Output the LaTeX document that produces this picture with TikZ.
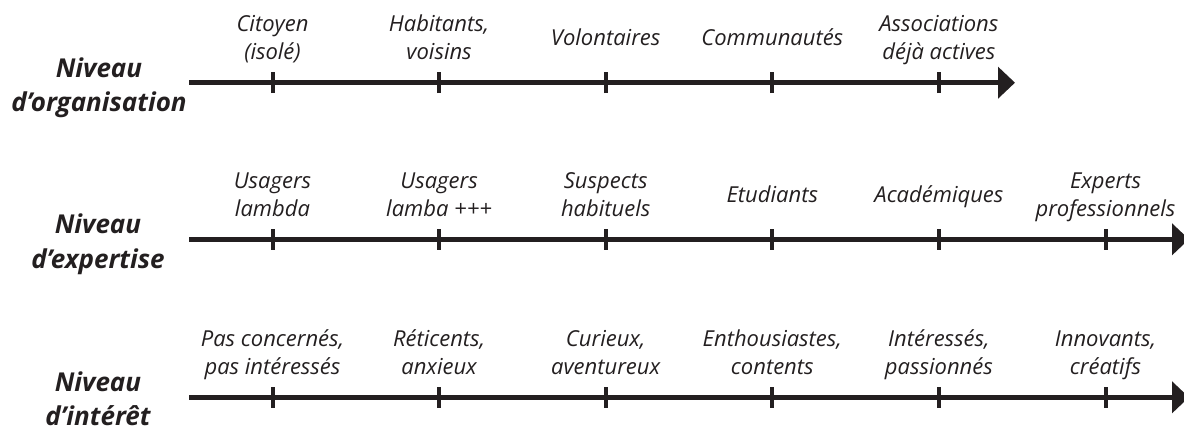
\documentclass[tikz,border=0pt]{standalone}
\usepackage{fontspec}
\setmainfont{Open Sans}
\usetikzlibrary{arrows.meta}
\definecolor{ink}{HTML}{231F20}
\newcommand{\stk}[1]{\begin{tabular}{@{}c@{}}#1\end{tabular}}
\begin{document}
\begin{tikzpicture}[x=1pt,y=-1pt,
  axisline/.style={line width=5pt, draw=ink, -{Triangle[length=17pt,width=31pt]}},
  tickmark/.style={line width=4pt, draw=ink},
  itemlbl/.style={inner sep=0pt, text=ink, font=\fontsize{22}{27.5}\selectfont\itshape},
  rowlbl/.style={inner sep=0pt, text=ink, font=\fontsize{26}{34.5}\selectfont\bfseries\itshape}]
\useasboundingbox (0,0) rectangle (1184,428);
% ---- row 1
\coordinate (s1) at (189,82.7);
\coordinate (e1) at (1015,82.7);
\draw[axisline] (s1) -- (e1);
\node[rowlbl] (r1) at (99,87.5) {\stk{Niveau\\d’organisation}};
\foreach \x/\n in {272.5/1,439.1/2,605.7/3,772.3/4,938.9/5}{
  \coordinate (a\n) at (\x,82.7);
  \draw[tickmark] ([yshift=-10.5pt]a\n) -- ([yshift=10.5pt]a\n);
}
\node[itemlbl] (i11) at (272.5,40.2) {\stk{Citoyen\\(isolé)}};
\node[itemlbl] (i12) at (439.1,40.2) {\stk{Habitants,\\voisins}};
\node[itemlbl] (i13) at (605.7,40.2) {\stk{Volontaires}};
\node[itemlbl] (i14) at (772.3,40.2) {\stk{Communautés}};
\node[itemlbl] (i15) at (938.9,40.2) {\stk{Associations\\déjà actives}};
% ---- row 2
\coordinate (s2) at (189,239.3);
\coordinate (e2) at (1189,239.3);
\draw[axisline] (s2) -- (e2);
\node[rowlbl] (r2) at (98,244.1) {\stk{Niveau\\d’expertise}};
\foreach \x/\n in {272.5/1,439.1/2,605.7/3,772.3/4,938.9/5,1105.5/6}{
  \coordinate (b\n) at (\x,239.3);
  \draw[tickmark] ([yshift=-10.5pt]b\n) -- ([yshift=10.5pt]b\n);
}
\node[itemlbl] (i21) at (272.5,196.8) {\stk{Usagers\\lambda}};
\node[itemlbl] (i22) at (439.1,196.8) {\stk{Usagers\\lamba +++}};
\node[itemlbl] (i23) at (605.7,196.8) {\stk{Suspects\\habituels}};
\node[itemlbl] (i24) at (772.3,196.8) {\stk{Etudiants}};
\node[itemlbl] (i25) at (938.9,196.8) {\stk{Académiques}};
\node[itemlbl] (i26) at (1105.5,196.8) {\stk{Experts\\professionnels}};
% ---- row 3
\coordinate (s3) at (189,397.3);
\coordinate (e3) at (1189,397.3);
\draw[axisline] (s3) -- (e3);
\node[rowlbl] (r3) at (98,401.6) {\stk{Niveau\\d’intérêt}};
\foreach \x/\n in {272.5/1,439.1/2,605.7/3,772.3/4,938.9/5,1105.5/6}{
  \coordinate (c\n) at (\x,397.3);
  \draw[tickmark] ([yshift=-10.5pt]c\n) -- ([yshift=10.5pt]c\n);
}
\node[itemlbl] (i31) at (272.5,354.8) {\stk{Pas concernés,\\pas intéressés}};
\node[itemlbl] (i32) at (439.1,354.8) {\stk{Réticents,\\anxieux}};
\node[itemlbl] (i33) at (605.7,354.8) {\stk{Curieux,\\aventureux}};
\node[itemlbl] (i34) at (772.3,354.8) {\stk{Enthousiastes,\\contents}};
\node[itemlbl] (i35) at (938.9,354.8) {\stk{Intéressés,\\passionnés}};
\node[itemlbl] (i36) at (1105.5,354.8) {\stk{Innovants,\\créatifs}};
\end{tikzpicture}
\end{document}
